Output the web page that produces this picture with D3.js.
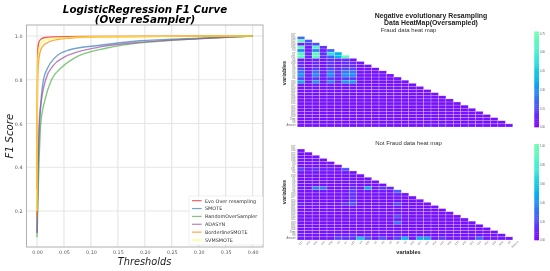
<!DOCTYPE html>
<html>
<head>
<meta charset="utf-8">
<script src="https://cdn.jsdelivr.net/npm/d3@7"></script>
<style>
    html, body { margin: 0; padding: 0; background: #fff; }
    svg { display: block; filter: blur(0.3px); }
</style>
</head>
<body>
<div id="chart"></div>
<script>
// F1 curves (threshold, score)
var seriesNames = ["Evo Over resampling", "SMOTE", "RandomOverSampler", "ADASYN", "BorderlineSMOTE", "SVMSMOTE"];

var evoX = [0, 0.0004, 0.001, 0.002, 0.004, 0.008, 0.015, 0.03, 0.1, 0.4];
var evoY = [0.3, 0.6, 0.88, 0.95, 0.975, 0.987, 0.993, 0.996, 0.998, 1];
var smoteX = [0, 0.002, 0.005, 0.012, 0.02, 0.033, 0.058, 0.117, 0.19, 0.3, 0.4];
var smoteY = [0.1, 0.38, 0.6, 0.8, 0.855, 0.9, 0.935, 0.958, 0.978, 0.99, 1];
var randomX = [0, 0.003, 0.007, 0.015, 0.027, 0.045, 0.07, 0.13, 0.22, 0.3, 0.4];
var randomY = [0.08, 0.36, 0.6, 0.71, 0.8, 0.855, 0.9, 0.945, 0.975, 0.988, 1];
var adasynX = [0, 0.002, 0.004, 0.009, 0.016, 0.03, 0.048, 0.117, 0.2, 0.3, 0.4];
var adasynY = [0.1, 0.4, 0.6, 0.72, 0.8, 0.865, 0.9, 0.95, 0.973, 0.987, 1];
var borderX = [0, 0.0005, 0.001, 0.0037, 0.0095, 0.024, 0.04, 0.06, 0.12, 0.4];
var borderY = [0.17, 0.6, 0.8, 0.9, 0.95, 0.975, 0.985, 0.99, 0.996, 1];
var svmX = [0, 0.0004, 0.001, 0.003, 0.008, 0.02, 0.04, 0.07, 0.15, 0.4];
var svmY = [0.2, 0.6, 0.88, 0.93, 0.97, 0.985, 0.99, 0.995, 0.998, 1];

var xTicks = [0, 0.05, 0.1, 0.15, 0.2, 0.25, 0.3, 0.35, 0.4];
var yTicks = [0.2, 0.4, 0.6, 0.8, 1.0];

// heat map labels and cell values
var variableNames = ["V17", "V14", "V12", "V10", "V16", "V3", "V7", "V11", "V4", "V18", "V1", "V9", "V5", "V2", "V6",
    "V19", "V27", "V20", "V24", "V21", "V26", "V13", "V15", "V22", "V23", "V25", "V28", "Time", "V8", "Amount"];
var fraudTicks = [0, 0.15, 0.3, 0.45, 0.6, 0.75];
var notFraudTicks = [0, 0.2, 0.4, 0.6, 0.8, 1];

var fraudRows = [
    [.22],
    [.71, .16],
    [.06, .10, .15],
    [.68, .04, .64, .08],
    [.26, .04, .26, .04, .19],
    [.64, .08, .68, .09, .52, .38],
    [.68, .08, .68, .09, .19, .38, .68],
    [.05, .03, .06, .03, .09, .06, .08, .04],
    [.09, .03, .08, .04, .11, .06, .10, .08, .04],
    [.08, .03, .07, .03, .09, .05, .08, .07, .03, .04],
    [.15, .04, .12, .05, .14, .08, .14, .13, .03, .03, .03],
    [.24, .05, .22, .06, .24, .08, .25, .24, .04, .03, .03, .03],
    [.30, .06, .26, .06, .28, .09, .29, .28, .04, .03, .03, .04, .03],
    [.12, .04, .10, .04, .10, .05, .10, .10, .03, .03, .03, .03, .03, .03],
    [.36, .06, .30, .06, .26, .08, .32, .32, .04, .03, .03, .03, .03, .03, .03],
    [.05, .03, .05, .03, .05, .03, .05, .05, .03, .03, .03, .03, .03, .03, .03, .03],
    [.04, .03, .04, .03, .05, .03, .04, .04, .03, .03, .03, .03, .03, .03, .03, .03, .03],
    [.04, .03, .04, .03, .04, .03, .04, .04, .03, .03, .03, .03, .03, .03, .03, .03, .03, .03],
    [.03, .03, .04, .03, .04, .03, .04, .03, .03, .03, .03, .03, .03, .03, .03, .03, .03, .03, .03],
    [.03, .03, .03, .03, .04, .03, .03, .03, .03, .03, .03, .03, .03, .03, .03, .03, .03, .04, .03, .03],
    [.03, .03, .03, .03, .03, .03, .03, .03, .03, .03, .03, .03, .03, .03, .03, .03, .03, .04, .03, .03, .03],
    [.03, .03, .03, .03, .03, .03, .03, .03, .03, .03, .03, .03, .03, .04, .03, .03, .03, .03, .03, .03, .03, .03],
    [.03, .03, .03, .03, .03, .03, .03, .03, .03, .03, .03, .03, .03, .03, .03, .03, .03, .04, .03, .03, .03, .03, .03],
    [.03, .03, .03, .03, .03, .03, .03, .03, .03, .03, .03, .03, .03, .03, .03, .03, .03, .03, .04, .03, .03, .03, .03, .03],
    [.03, .03, .03, .03, .03, .03, .03, .03, .03, .03, .03, .03, .03, .03, .03, .03, .03, .03, .03, .03, .03, .03, .03, .03, .03],
    [.03, .03, .03, .03, .03, .03, .03, .03, .03, .03, .03, .03, .03, .03, .03, .03, .03, .04, .04, .03, .03, .03, .03, .03, .03, .03],
    [.03, .03, .03, .03, .03, .03, .03, .03, .03, .03, .03, .03, .03, .03, .03, .03, .03, .03, .03, .03, .03, .03, .03, .03, .03, .03, .03],
    [.03, .03, .03, .03, .03, .03, .03, .03, .03, .03, .03, .03, .03, .03, .03, .03, .03, .03, .03, .03, .03, .03, .03, .03, .03, .03, .03, .03],
    [.03, .03, .03, .03, .03, .03, .03, .03, .03, .03, .03, .03, .03, .03, .03, .03, .03, .05, .03, .05, .03, .03, .03, .03, .03, .03, .03, .03, .03]
];

var notFraudRows = [
    [.04],
    [.04, .04],
    [.05, .04, .04],
    [.05, .04, .05, .04],
    [.05, .04, .04, .04, .04],
    [.05, .04, .05, .04, .05, .04],
    [.14, .06, .12, .07, .08, .05, .22],
    [.05, .04, .05, .04, .04, .04, .05, .05],
    [.04, .04, .04, .04, .04, .04, .04, .05, .04],
    [.04, .04, .04, .04, .04, .04, .04, .05, .04, .05],
    [.05, .04, .04, .04, .04, .04, .05, .06, .04, .05, .04],
    [.04, .04, .04, .04, .04, .04, .04, .06, .04, .04, .04, .04],
    [.07, .05, .34, .32, .05, .05, .06, .12, .05, .46, .06, .14, .10],
    [.05, .04, .05, .05, .04, .04, .06, .14, .04, .05, .04, .06, .05, .24],
    [.04, .04, .04, .04, .04, .04, .05, .12, .04, .04, .04, .04, .04, .08, .04],
    [.05, .04, .05, .04, .04, .04, .06, .12, .04, .04, .04, .04, .04, .06, .04, .04],
    [.04, .04, .04, .04, .04, .04, .05, .14, .04, .04, .04, .04, .04, .05, .04, .04, .04],
    [.10, .04, .06, .04, .05, .05, .14, .22, .04, .05, .04, .05, .04, .20, .04, .04, .04, .04],
    [.04, .04, .04, .04, .04, .04, .04, .05, .04, .04, .04, .04, .04, .06, .04, .04, .04, .04, .04],
    [.04, .04, .04, .04, .04, .04, .04, .05, .04, .04, .04, .04, .04, .05, .04, .04, .04, .04, .04, .04],
    [.04, .04, .04, .04, .04, .04, .04, .05, .04, .04, .04, .04, .04, .05, .04, .04, .04, .04, .04, .04, .04],
    [.05, .04, .04, .04, .04, .04, .04, .06, .04, .04, .04, .04, .04, .18, .04, .04, .04, .04, .04, .04, .04, .04],
    [.04, .04, .04, .04, .04, .04, .04, .04, .04, .04, .04, .04, .04, .06, .04, .04, .04, .05, .04, .04, .04, .04, .04],
    [.05, .04, .04, .04, .04, .04, .04, .05, .04, .04, .04, .04, .04, .30, .04, .04, .04, .04, .04, .04, .04, .04, .04, .04],
    [.04, .04, .04, .04, .04, .04, .04, .04, .04, .04, .04, .04, .04, .05, .04, .04, .04, .04, .05, .04, .04, .04, .04, .04, .04],
    [.04, .04, .04, .04, .04, .04, .05, .04, .04, .04, .04, .04, .04, .05, .04, .04, .04, .04, .04, .04, .04, .04, .04, .04, .04, .04],
    [.05, .04, .04, .04, .04, .04, .04, .04, .04, .04, .04, .04, .04, .04, .04, .04, .04, .04, .04, .04, .04, .04, .04, .04, .04, .04, .04],
    [.08, .05, .05, .05, .05, .08, .08, .10, .05, .06, .05, .05, .05, .08, .05, .05, .05, .05, .05, .05, .05, .05, .05, .05, .05, .05, .05, .05],
    [.05, .05, .05, .05, .05, .16, .12, .12, .55, .20, .06, .20, .06, .16, .50, .06, .46, .44, .06, .14, .05, .05, .05, .05, .26, .05, .05, .05, .05]
];

var width = 550,
    height = 271,
    sans = "'Liberation Sans', Arial, sans-serif",
    dejavu = "'DejaVu Sans', sans-serif",
    svg = d3.select("#chart").append("svg")
        .attr("width", width)
        .attr("height", height);

// ---- left panel: F1 curves
var frame = {left: 26.5, right: 263, top: 25, bottom: 247},
    x = d3.scaleLinear().domain([0, 0.4]).range([37, 252.6]),
    y = d3.scaleLinear().domain([0.2, 1]).range([211, 36]),
    colors = d3.schemeSet1.slice(0, 6),
    seriesX = [evoX, smoteX, randomX, adasynX, borderX, svmX],
    seriesY = [evoY, smoteY, randomY, adasynY, borderY, svmY];

svg.append("g").selectAll("line").data(xTicks).enter().append("line")
    .attr("x1", function(d) { return x(d); })
    .attr("x2", function(d) { return x(d); })
    .attr("y1", frame.top)
    .attr("y2", frame.bottom)
    .attr("stroke", "#e6e6e6")
    .attr("stroke-width", 1.2);

svg.append("g").selectAll("line").data(yTicks).enter().append("line")
    .attr("x1", frame.left)
    .attr("x2", frame.right)
    .attr("y1", function(d) { return y(d); })
    .attr("y2", function(d) { return y(d); })
    .attr("stroke", "#e6e6e6")
    .attr("stroke-width", 1.2);

var line = d3.line()
    .x(function(d) { return x(d[0]); })
    .y(function(d) { return y(d[1]); })
    .curve(d3.curveMonotoneX);

seriesNames.forEach(function(name, i) {
    svg.append("path")
        .datum(d3.zip(seriesX[i], seriesY[i]))
        .attr("d", line)
        .attr("fill", "none")
        .attr("stroke", colors[i])
        .attr("stroke-opacity", 0.7)
        .attr("stroke-width", 1.4);
});

svg.append("rect")
    .attr("x", frame.left)
    .attr("y", frame.top)
    .attr("width", frame.right - frame.left)
    .attr("height", frame.bottom - frame.top)
    .attr("fill", "none")
    .attr("stroke", "#b0b0b0")
    .attr("stroke-width", 1);

var xAxis = svg.append("g")
    .attr("transform", "translate(0," + frame.bottom + ")")
    .call(d3.axisBottom(x).tickValues(xTicks).tickFormat(d3.format(".2f")).tickSize(0).tickPadding(4));
var yAxis = svg.append("g")
    .attr("transform", "translate(" + frame.left + ",0)")
    .call(d3.axisLeft(y).tickValues(yTicks).tickFormat(d3.format(".1f")).tickSize(0).tickPadding(4));

[xAxis, yAxis].forEach(function(axis) {
    axis.select(".domain").remove();
    axis.selectAll("text")
        .attr("fill", "#555")
        .style("font-family", dejavu)
        .style("font-size", "4.8px");
});

svg.append("text")
    .attr("x", 145)
    .attr("y", 12.5)
    .attr("text-anchor", "middle")
    .style("font", "italic bold 10.3px " + dejavu)
    .text("LogisticRegression F1 Curve");
svg.append("text")
    .attr("x", 145)
    .attr("y", 23)
    .attr("text-anchor", "middle")
    .style("font", "italic bold 10.3px " + dejavu)
    .text("(Over reSampler)");
svg.append("text")
    .attr("x", 144.5)
    .attr("y", 265)
    .attr("text-anchor", "middle")
    .attr("fill", "#222")
    .style("font", "italic 9.8px " + dejavu)
    .text("Thresholds");
svg.append("text")
    .attr("transform", "translate(12.5,136) rotate(-90)")
    .attr("text-anchor", "middle")
    .attr("fill", "#222")
    .style("font", "italic 10.3px " + dejavu)
    .text("F1 Score");

// legend
var legend = svg.append("g");
legend.append("rect")
    .attr("x", 189)
    .attr("y", 196)
    .attr("width", 74)
    .attr("height", 49)
    .attr("rx", 1)
    .attr("fill", "#fff")
    .attr("fill-opacity", 0.85)
    .attr("stroke", "#ddd")
    .attr("stroke-width", 0.5);

var legendRow = d3.scalePoint().domain(seriesNames).range([200.7, 240]);
seriesNames.forEach(function(name, i) {
    legend.append("line")
        .attr("x1", 192)
        .attr("x2", 201.7)
        .attr("y1", legendRow(name))
        .attr("y2", legendRow(name))
        .attr("stroke", colors[i])
        .attr("stroke-opacity", 0.7)
        .attr("stroke-width", 1.2);
    legend.append("text")
        .attr("x", 205)
        .attr("y", legendRow(name) + 1.8)
        .attr("fill", "#333")
        .style("font", "4.9px " + dejavu)
        .text(name);
});

// ---- right panels: triangular heat maps
var heatColor = d3.scaleLinear()
    .domain([0, 0.25, 0.5, 0.75, 1])
    .range(["#8000ff", "#4062fa", "#00b5eb", "#40ecd4", "#70ffb0"]);

function drawHeatmap(rows, ticks, top, bottom, showXLabels) {
    var maxValue = d3.max(ticks),
        col = d3.scaleBand().domain(variableNames).range([297.3, 520.2]),
        row = d3.scaleBand().domain(variableNames).range([top, bottom]),
        fraction = d3.scaleLinear().domain([0, maxValue]).range([0, 1]),
        cells = [];

    rows.forEach(function(values, i) {
        values.forEach(function(value, j) {
            cells.push({row: variableNames[i + 1], col: variableNames[j], value: value});
        });
    });

    svg.append("g").selectAll("rect").data(cells).enter().append("rect")
        .attr("x", function(d) { return col(d.col); })
        .attr("y", function(d) { return row(d.row); })
        .attr("width", col.bandwidth())
        .attr("height", row.bandwidth())
        .attr("fill", function(d) { return heatColor(fraction(d.value)); })
        .attr("stroke", "#fff")
        .attr("stroke-opacity", 0.45)
        .attr("stroke-width", 0.5);

    var rowAxis = svg.append("g")
        .attr("transform", "translate(296.5,0)")
        .call(d3.axisLeft(row).tickSize(0).tickPadding(1));
    rowAxis.select(".domain").remove();
    rowAxis.selectAll("text")
        .attr("fill", "#666")
        .style("font-family", sans)
        .style("font-size", "2.6px");

    var colAxis = svg.append("g")
        .attr("transform", "translate(0," + bottom + ")")
        .call(d3.axisBottom(col).tickSize(0).tickPadding(1));
    colAxis.select(".domain").remove();
    colAxis.selectAll("text")
        .attr("fill", "#666")
        .style("font-family", sans)
        .style("font-size", "2.6px")
        .style("display", showXLabels ? null : "none")
        .attr("text-anchor", "end")
        .attr("transform", "rotate(-45)");

    // colour bar
    var barY = d3.scaleLinear().domain([0, maxValue]).range([bottom, top]),
        barStops = d3.range(0, 1.001, 0.02),
        barHeight = (bottom - top) * 0.02;

    svg.append("g").selectAll("rect").data(barStops).enter().append("rect")
        .attr("x", 534.3)
        .attr("y", function(d) { return bottom - (bottom - top) * d - barHeight; })
        .attr("width", 4.7)
        .attr("height", barHeight + 0.3)
        .attr("fill", function(d) { return heatColor(d); });

    var barAxis = svg.append("g")
        .attr("transform", "translate(539,0)")
        .call(d3.axisRight(barY).tickValues(ticks).tickFormat(d3.format(".2f")).tickSize(0).tickPadding(1));
    barAxis.select(".domain").remove();
    barAxis.selectAll("text")
        .attr("fill", "#666")
        .style("font-family", sans)
        .style("font-size", "2.6px");
}

drawHeatmap(fraudRows, fraudTicks, 33.4, 127, false);
drawHeatmap(notFraudRows, notFraudTicks, 145.9, 240, true);

svg.append("text")
    .attr("x", 431)
    .attr("y", 17.5)
    .attr("text-anchor", "middle")
    .attr("fill", "#222")
    .style("font", "bold 6.9px " + sans)
    .text("Negative evolutionary Resampling");
svg.append("text")
    .attr("x", 431)
    .attr("y", 25)
    .attr("text-anchor", "middle")
    .attr("fill", "#222")
    .style("font", "bold 6.9px " + sans)
    .text("Data HeatMap(Oversampled)");
svg.append("text")
    .attr("x", 408.5)
    .attr("y", 32)
    .attr("text-anchor", "middle")
    .attr("fill", "#333")
    .style("font", "6px " + sans)
    .text("Fraud data heat map");
svg.append("text")
    .attr("x", 408.5)
    .attr("y", 144.7)
    .attr("text-anchor", "middle")
    .attr("fill", "#333")
    .style("font", "6px " + sans)
    .text("Not Fraud data heat map");

[73, 192].forEach(function(center) {
    svg.append("text")
        .attr("transform", "translate(286," + center + ") rotate(-90)")
        .attr("text-anchor", "middle")
        .attr("fill", "#222")
        .style("font", "bold 5.6px " + sans)
        .text("variables");
});
svg.append("text")
    .attr("x", 408.5)
    .attr("y", 254)
    .attr("text-anchor", "middle")
    .attr("fill", "#222")
    .style("font", "bold 5.6px " + sans)
    .text("variables");
</script>
</body>
</html>
